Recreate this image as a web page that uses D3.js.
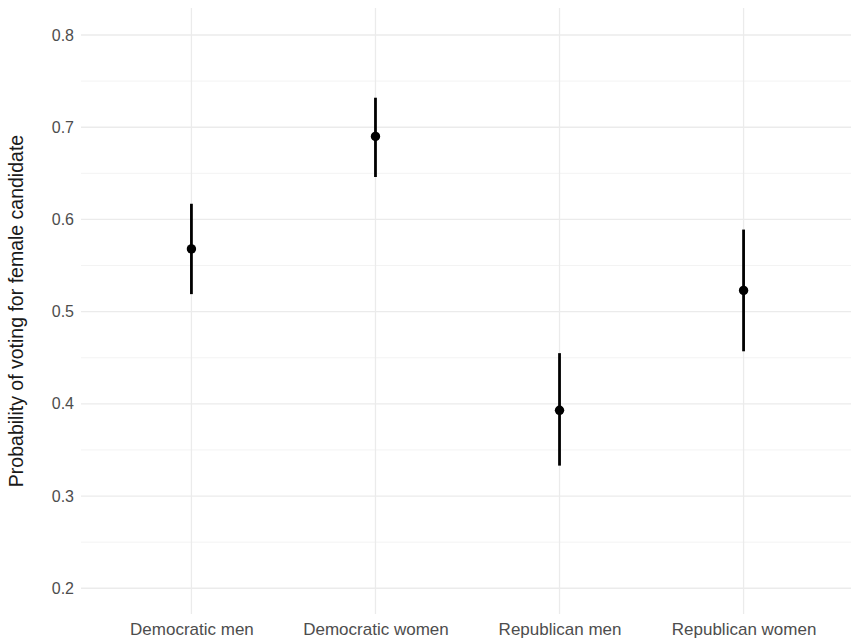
<!DOCTYPE html>
<html>
<head>
<meta charset="utf-8">
<script src="https://cdn.jsdelivr.net/npm/d3@7"></script>
<style>
  body { margin: 0; background: #fff; }
  svg text { font-family: "Liberation Sans", Arial, sans-serif; }
</style>
</head>
<body>
<div id="chart"></div>
<script>
// groups and estimates
const groups = ["Democratic men", "Democratic women", "Republican men", "Republican women"];
const estimate = [0.568, 0.690, 0.393, 0.523];
const lower = [0.519, 0.646, 0.333, 0.457];
const upper = [0.617, 0.732, 0.455, 0.589];
const yTicks = [0.2, 0.3, 0.4, 0.5, 0.6, 0.7, 0.8];
const yMinor = [0.25, 0.35, 0.45, 0.55, 0.65, 0.75];

const width = 851, height = 639;
const margin = {top: 8, right: 0, bottom: 25, left: 81};

const svg = d3.select("#chart").append("svg")
  .attr("width", width)
  .attr("height", height);

const x = d3.scalePoint()
  .domain(groups)
  .range([margin.left, 854])
  .padding(0.6);

const y = d3.scaleLinear()
  .domain([0.1721, 0.8293])
  .range([height - margin.bottom, margin.top]);

// minor gridlines
svg.append("g")
  .selectAll("line")
  .data(yMinor)
  .enter().append("line")
  .attr("x1", margin.left).attr("x2", width)
  .attr("y1", d => y(d)).attr("y2", d => y(d))
  .attr("stroke", "#f3f3f3")
  .attr("stroke-width", 1);

// major gridlines
svg.append("g")
  .selectAll("line")
  .data(yTicks)
  .enter().append("line")
  .attr("x1", margin.left).attr("x2", width)
  .attr("y1", d => y(d)).attr("y2", d => y(d))
  .attr("stroke", "#ebebeb")
  .attr("stroke-width", 1.3);

svg.append("g")
  .selectAll("line")
  .data(groups)
  .enter().append("line")
  .attr("x1", d => x(d)).attr("x2", d => x(d))
  .attr("y1", margin.top).attr("y2", height - margin.bottom)
  .attr("stroke", "#ebebeb")
  .attr("stroke-width", 1.3);

// y axis labels
const yAxis = svg.append("g")
  .attr("transform", "translate(" + margin.left + ",0)")
  .call(d3.axisLeft(y).tickValues(yTicks).tickSize(0).tickPadding(7).tickFormat(d3.format(".1f")));
yAxis.select(".domain").remove();
yAxis.selectAll("text")
  .attr("fill", "#4d4d4d")
  .style("font-size", "16px");

// x axis labels
const xAxis = svg.append("g")
  .attr("transform", "translate(0," + (height - margin.bottom) + ")")
  .call(d3.axisBottom(x).tickSize(0).tickPadding(9));
xAxis.select(".domain").remove();
xAxis.selectAll("text")
  .attr("fill", "#4d4d4d")
  .style("font-size", "17px");

// y title
svg.append("text")
  .attr("transform", "translate(23," + ((margin.top + height - margin.bottom) / 2) + ") rotate(-90)")
  .attr("text-anchor", "middle")
  .attr("fill", "#1a1a1a")
  .style("font-size", "19.5px")
  .text("Probability of voting for female candidate");

// error bars
svg.append("g")
  .selectAll("line")
  .data(groups)
  .enter().append("line")
  .attr("x1", d => x(d)).attr("x2", d => x(d))
  .attr("y1", (d, i) => y(lower[i]))
  .attr("y2", (d, i) => y(upper[i]))
  .attr("stroke", "#000")
  .attr("stroke-width", 2.8);

// points
svg.append("g")
  .selectAll("circle")
  .data(groups)
  .enter().append("circle")
  .attr("cx", d => x(d))
  .attr("cy", (d, i) => y(estimate[i]))
  .attr("r", 4.7)
  .attr("fill", "#000");
</script>
</body>
</html>
